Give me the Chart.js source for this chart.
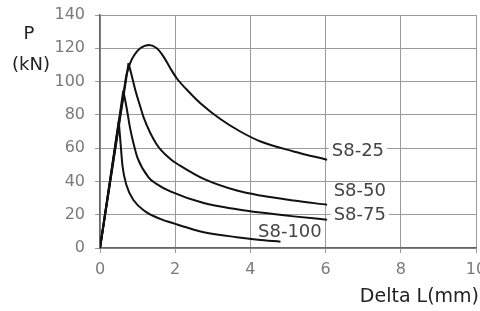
<!DOCTYPE html>
<html>
<head>
<meta charset="utf-8">
<script src="https://cdn.jsdelivr.net/npm/chart.js@4/dist/chart.umd.min.js"></script>
<style>
  html, body { margin: 0; padding: 0; background: #fff; }
  canvas { display: block; }
</style>
</head>
<body>
<canvas id="pdChart" width="480" height="311"></canvas>
<script>
// Данные кривых P - Delta L (читаются с рисунка)
const s25x = [0, 0.7, 0.8, 0.9, 1.07, 1.31, 1.51, 1.69, 1.87, 2.04, 2.4, 2.67, 3.2, 3.73, 4.27, 5.15, 6.04];
const s25y = [0, 104, 111, 115.5, 120, 122, 120, 115, 108, 102, 93, 87, 77.5, 70, 64, 58, 53];

const s50x = [0, 0.76, 0.85, 0.95, 1.07, 1.16, 1.5, 1.87, 2.13, 2.76, 3.64, 4.27, 5.15, 6.04];
const s50y = [0, 111, 103, 94, 85, 78.5, 62.5, 53.5, 49.5, 41.5, 34.5, 31.5, 28.5, 26];

const s75x = [0, 0.62, 0.71, 0.8, 0.89, 1.0, 1.29, 1.5, 1.87, 2.76, 3.64, 4.27, 5.15, 6.04];
const s75y = [0, 94.5, 84, 72, 63, 54, 42.5, 38.5, 34, 27, 23.3, 21.3, 19, 17];

const s100x = [0, 0.5, 0.55, 0.6, 0.7, 0.9, 1.2, 1.6, 2.0, 2.5, 2.76, 3.64, 4.2, 4.8];
const s100y = [0, 76, 62, 49, 38, 28.5, 22, 17.5, 14.5, 11, 9.5, 6.5, 5, 3.8];

// Подписи серий
const seriesNames = ['S8-25', 'S8-50', 'S8-75', 'S8-100'];
const labelX = [6.86, 6.91, 6.91, 5.05];
const labelY = [58, 34.2, 19.8, 9.6];

// Деления осей
const xTicks = [0, 2, 4, 6, 8, 10];
const yTicks = [0, 20, 40, 60, 80, 100, 120, 140];

const seriesX = [s25x, s50x, s75x, s100x];
const seriesY = [s25y, s50y, s75y, s100y];
// индекс точки, где прямой участок нагружения переходит в кривую
const bendIndex = [1, 1, 1, 1];

function toPoints(xs, ys, from, to) {
    const pts = [];
    for (let i = from; i <= to; i++) pts.push({ x: xs[i], y: ys[i] });
    return pts;
}

const datasets = [];
seriesNames.forEach((name, i) => {
    const xs = seriesX[i], ys = seriesY[i], b = bendIndex[i];
    // прямой участок
    datasets.push({
        label: name + ' (up)',
        data: toPoints(xs, ys, 0, b),
        borderColor: '#111',
        borderWidth: 2,
        pointRadius: 0,
        tension: 0
    });
    // спадающая ветвь
    datasets.push({
        label: name,
        data: toPoints(xs, ys, b, xs.length - 1),
        borderColor: '#111',
        borderWidth: 2,
        pointRadius: 0,
        cubicInterpolationMode: 'monotone'
    });
});

// Подписи серий с белой подложкой + заголовки осей
const labelsPlugin = {
    id: 'seriesLabels',
    beforeDatasetsDraw(chart) {
        const ctx = chart.ctx;
        const xs = chart.scales.x;
        const ys = chart.scales.y;
        ctx.save();
        ctx.font = '18px "DejaVu Sans"';
        ctx.textAlign = 'center';
        ctx.textBaseline = 'middle';
        seriesNames.forEach((name, i) => {
            const px = xs.getPixelForValue(labelX[i]);
            const py = ys.getPixelForValue(labelY[i]);
            const w = ctx.measureText(name).width;
            ctx.fillStyle = '#fff';
            ctx.fillRect(px - w / 2 - 3, py - 8, w + 6, 16);
            ctx.fillStyle = '#444';
            ctx.fillText(name, px, py);
        });
        ctx.restore();
    },
    afterDraw(chart) {
        const ctx = chart.ctx;
        ctx.save();
        ctx.fillStyle = '#222';
        ctx.font = '18px "DejaVu Sans"';
        ctx.textAlign = 'center';
        ctx.textBaseline = 'alphabetic';
        ctx.fillText('P', 29, 39);
        ctx.fillText('(kN)', 31, 70);
        ctx.font = '19px "DejaVu Sans"';
        ctx.textAlign = 'right';
        ctx.fillText('Delta L(mm)', 479, 302);
        ctx.restore();
    }
};

new Chart(document.getElementById('pdChart'), {
    type: 'line',
    data: { datasets: datasets },
    options: {
        responsive: false,
        animation: false,
        devicePixelRatio: 1,
        layout: { padding: { top: 15, right: 4, left: 0, bottom: 0 } },
        plugins: {
            legend: { display: false },
            tooltip: { enabled: false }
        },
        scales: {
            x: {
                type: 'linear',
                min: 0,
                max: 10,
                afterBuildTicks: (scale) => { scale.ticks = xTicks.map(v => ({ value: v })); },
                afterFit: (scale) => { scale.height = 63; scale.paddingLeft = 0; scale.paddingRight = 0; },
                grid: { color: '#9a9a9a', lineWidth: 1, tickLength: 5 },
                border: { color: '#666', width: 1.5 },
                ticks: {
                    color: '#7a7a7a',
                    padding: 7,
                    maxRotation: 0,
                    font: { family: 'DejaVu Sans', size: 16 }
                }
            },
            y: {
                type: 'linear',
                min: 0,
                max: 140,
                afterBuildTicks: (scale) => { scale.ticks = yTicks.map(v => ({ value: v })); },
                afterFit: (scale) => { scale.width = 100; scale.paddingTop = 0; scale.paddingBottom = 0; },
                grid: { color: '#9a9a9a', lineWidth: 1, tickLength: 5 },
                border: { color: '#666', width: 1.5 },
                ticks: {
                    color: '#7a7a7a',
                    padding: 10,
                    font: { family: 'DejaVu Sans', size: 16 }
                }
            }
        }
    },
    plugins: [labelsPlugin]
});
</script>
</body>
</html>
